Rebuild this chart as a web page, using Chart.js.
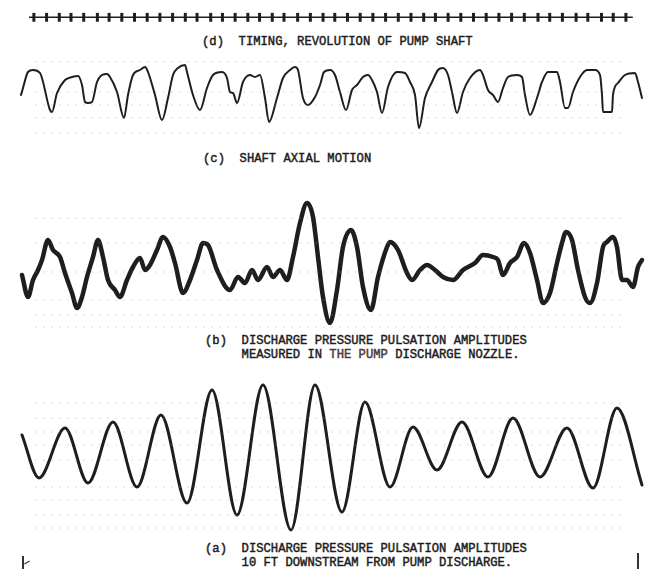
<!DOCTYPE html>
<html>
<head>
<meta charset="utf-8">
<script src="https://cdn.jsdelivr.net/npm/chart.js@4.4.0/dist/chart.umd.min.js"></script>
<style>
  body { margin: 0; background: #fff; }
  #wrap { position: relative; width: 651px; height: 569px; overflow: hidden; background: #fff; }
  canvas { position: absolute; left: 0; }
  .cap {
    position: absolute; white-space: pre; color: #1c1c1c;
    font-family: "Liberation Mono", "DejaVu Sans Mono", monospace;
    font-size: 12.2px; line-height: 14px;
    -webkit-text-stroke: 0.45px #1c1c1c;
  }
  .mark { position: absolute; background: #333; }
</style>
</head>
<body>
<div id="wrap">
  <canvas id="timing" width="651" height="25" style="top:5px"></canvas>
  <canvas id="axial" width="651" height="90" style="top:50px"></canvas>
  <canvas id="nozzle" width="651" height="140" style="top:190px"></canvas>
  <canvas id="downstream" width="651" height="170" style="top:370px"></canvas>

  <div class="cap" style="left:202px;top:35px">(d)  TIMING, REVOLUTION OF PUMP SHAFT</div>
  <div class="cap" style="left:203px;top:152px">(c)  SHAFT AXIAL MOTION</div>
  <div class="cap" style="left:205px;top:334px">(b)  DISCHARGE PRESSURE PULSATION AMPLITUDES
     MEASURED IN <span style="color:#4a3838;-webkit-text-stroke-color:#4a3838">THE PUMP</span> DISCHARGE NOZZLE.</div>
  <div class="cap" style="left:205px;top:542px">(a)  DISCHARGE PRESSURE PULSATION AMPLITUDES
     10 FT DOWNSTREAM FROM PUMP DISCHARGE.</div>

  <div class="mark" style="left:22px;top:556px;width:1.5px;height:13px"></div>
  <div class="mark" style="left:24px;top:562px;width:6px;height:1px;transform:rotate(-30deg)"></div>
  <div class="mark" style="left:637px;top:553px;width:1.5px;height:16px"></div>
</div>

<script>
// (d) timing marks, one per shaft revolution (position along the record)
const timingStart = 22;
const timingEnd = 640;
const timingTicks = [27, 40, 53, 65, 78, 92, 104, 117, 130, 143, 156, 169, 182, 194, 208, 220,
  233, 246, 258, 271, 283, 297, 310, 323, 335, 348, 361, 374, 387, 400, 413, 426,
  438, 451, 464, 477, 490, 503, 516, 529, 543, 555, 568, 582, 594, 608, 620, 633];

// (c) shaft axial motion
const axialT = [21, 23, 28, 33, 40, 50, 52, 57, 65, 72, 78, 82, 85, 88, 92, 97, 102, 107, 110, 117,
  124, 128, 133, 140, 145, 148, 155, 162, 168, 173, 178, 185, 187, 193, 200, 207, 213, 222, 227, 230,
  233, 237, 243, 250, 255, 260, 265, 269, 277, 283, 290, 295, 298, 303, 308, 315, 320, 324, 330, 335,
  340, 346, 352, 357, 363, 368, 372, 377, 382, 388, 397, 405, 410, 415, 419, 425, 432, 438, 443, 448,
  452, 457, 463, 470, 480, 483, 488, 493, 498, 503, 508, 517, 522, 525, 530, 537, 542, 548, 557, 560,
  565, 568, 573, 580, 587, 595, 600, 602, 603, 612, 613, 618, 625, 635, 638, 642];
const axialY = [0, 7, 23, 25, 22, -15, -17, 2, 15, 18, 19, 10, -7, -8, -7, 13, 20, 21, 18, 3,
  -23, 0, 20, 25, 28, 23, 0, -25, -3, 20, 27, 30, 23, 0, -15, 7, 20, 23, 17, 3,
  2, -8, 13, 20, 18, 20, -3, -27, -3, 17, 25, 28, 25, -3, -10, -2, 10, 23, 25, 20,
  3, -15, 5, 10, 18, 20, 15, 3, -18, 8, 23, 22, 13, 0, -33, -3, 13, 25, 27, 20,
  3, -18, 3, 17, 25, 20, 5, 0, -7, 7, 18, 20, 18, 0, -20, -3, 13, 23, 23, 13,
  -13, -13, 3, 18, 25, 25, 20, 0, -17, -17, 0, 12, 20, 22, 13, -3];
const axialGrid = [33, 3, -10, -23, -38, -50];

// (b) pulsation in the pump discharge nozzle
const nozzleT = [22, 28, 33, 38, 42, 48, 53, 60, 65, 72, 77, 82, 87, 93, 98, 103, 108, 115, 120, 127,
  133, 140, 145, 150, 157, 163, 170, 175, 183, 190, 197, 203, 208, 217, 230, 238, 245, 252, 258, 267,
  273, 280, 287, 293, 300, 307, 313, 318, 323, 330, 337, 343, 351, 357, 363, 371, 378, 387, 390, 398,
  407, 412, 420, 427, 435, 443, 453, 463, 475, 483, 493, 498, 503, 510, 517, 524, 530, 537, 543, 550,
  557, 562, 566, 572, 578, 585, 590, 597, 603, 607, 613, 617, 622, 627, 633, 638, 642];
const nozzleY = [-10, -32, -15, -5, 5, 25, 15, 8, -8, -28, -43, -32, -12, 8, 25, 8, -15, -25, -32, -15,
  -2, 7, -5, 0, 15, 28, 18, 2, -28, -15, 5, 22, 20, -5, -25, -12, -18, -5, -15, -2,
  -12, -5, -15, 8, 42, 62, 48, 8, -32, -58, -25, 18, 35, 18, -22, -45, -12, 18, 23, 15,
  -8, -15, -5, 0, -5, -12, -15, -5, 2, 10, 8, 5, -10, 2, 8, 22, 12, -15, -38, -28,
  2, 22, 33, 25, -5, -32, -38, -18, 18, 23, 28, 18, -15, -15, -22, -2, 5];
const nozzleGrid = [47, 22, -7, -35, -50, -62];

// (a) pulsation 10 ft downstream from pump discharge (peaks and troughs)
const downT = [22, 39, 65, 88, 113, 137, 161, 187, 212, 237, 263, 291, 315, 342, 365, 390,
  413, 437, 462, 488, 513, 540, 567, 593, 617, 642];
const downY = [15, -28, 22, -33, 28, -37, 35, -53, 60, -65, 65, -80, 65, -62, 48, -37,
  23, -20, 28, -27, 32, -27, 22, -38, 42, -35];
const downGrid = [47, 32, 18, 5, -10, -37, -50, -65, -78];

const ink = '#1e1e1e';
const faint = 'rgba(150,150,150,0.35)';

function pts(xs, ys) {
  return xs.map((x, i) => ({ x: x, y: ys[i] }));
}

function scales(yMin, yMax) {
  return {
    x: { type: 'linear', min: 0, max: 651, display: false },
    y: { type: 'linear', min: yMin, max: yMax, display: false }
  };
}

const common = {
  responsive: false,
  animation: false,
  events: [],
  layout: { padding: 0 },
  plugins: { legend: { display: false }, tooltip: { enabled: false } }
};

function trace(id, xs, ys, grid, yMin, yMax, width) {
  const rows = grid.map(v => ({
    data: [{ x: 35, y: v }, { x: 625, y: v }],
    borderColor: faint, borderWidth: 1, borderDash: [2, 6], pointRadius: 0
  }));
  new Chart(document.getElementById(id), {
    type: 'line',
    data: {
      datasets: rows.concat([{
        data: pts(xs, ys),
        borderColor: ink,
        borderWidth: width,
        pointRadius: 0,
        cubicInterpolationMode: 'monotone',
        borderJoinStyle: 'round',
        borderCapStyle: 'round',
        clip: false
      }])
    },
    options: Object.assign({}, common, { scales: scales(yMin, yMax) })
  });
}

// timing line with its revolution marks
new Chart(document.getElementById('timing'), {
  type: 'line',
  data: {
    datasets: [
      {
        data: [{ x: timingStart, y: 0 }, { x: timingEnd, y: 0 }],
        borderColor: ink, borderWidth: 1.6, pointRadius: 0
      },
      {
        type: 'scatter',
        data: timingTicks.map(t => ({ x: t, y: 0 })),
        pointStyle: 'line', rotation: 90, pointRadius: 4.5,
        borderColor: ink, borderWidth: 3, backgroundColor: ink
      }
    ]
  },
  options: Object.assign({}, common, { scales: scales(-13, 12) })
});

trace('axial', axialT, axialY, axialGrid, -45, 45, 2);
trace('nozzle', nozzleT, nozzleY, nozzleGrid, -65, 75, 4.5);
trace('downstream', downT, downY, downGrid, -90, 80, 3);
</script>
</body>
</html>
